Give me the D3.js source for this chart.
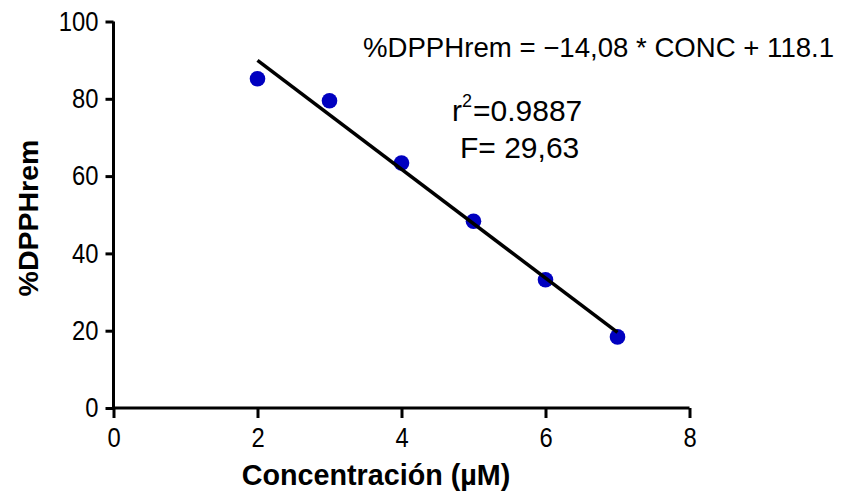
<!DOCTYPE html>
<html>
<head>
<meta charset="utf-8">
<script src="https://cdn.jsdelivr.net/npm/d3@7"></script>
<style>
  html, body { margin: 0; padding: 0; background: #fff; }
  svg { display: block; font-family: "Liberation Sans", Arial, sans-serif; }
</style>
</head>
<body>
<svg id="chart" width="844" height="497"></svg>
<script>
// Measured remaining DPPH (%) at each concentration
const concentration = [2, 3, 4, 5, 6, 7];
const dpphRemaining = [85.2, 79.5, 63.4, 48.3, 33.2, 18.4];

// Linear fit: %DPPHrem = slope * CONC + intercept
const slope = -14.08;
const intercept = 118.1;
const fitRange = [2, 7];

const xTicks = [0, 2, 4, 6, 8];
const yTicks = [0, 20, 40, 60, 80, 100];

const FONT = "'Liberation Sans', Arial, sans-serif";
const svg = d3.select("#chart");

const x = d3.scaleLinear().domain([0, 8]).range([113.5, 689.5]);
const y = d3.scaleLinear().domain([0, 100]).range([408, 21.5]);

// Axes
const xAxis = svg.append("g")
  .attr("transform", `translate(0,${y(0)})`)
  .call(d3.axisBottom(x).tickValues(xTicks).tickSize(10).tickPadding(10).tickFormat(d3.format("d")));
const yAxis = svg.append("g")
  .attr("transform", `translate(${x(0)},0)`)
  .call(d3.axisLeft(y).tickValues(yTicks).tickSize(8).tickPadding(7).tickFormat(d3.format("d")));

[xAxis, yAxis].forEach(g => {
  g.attr("font-size", null).attr("font-family", null);
  g.select(".domain").attr("stroke", "#000").attr("stroke-width", 3);
  g.selectAll(".tick line").attr("stroke", "#000").attr("stroke-width", 3);
  g.selectAll(".tick text")
    .attr("fill", "#000")
    .style("font-family", FONT)
    .style("font-size", "27px")
    // slightly condensed numerals
    .each(function () {
      const w = this.getComputedTextLength();
      d3.select(this).attr("textLength", w * 0.88).attr("lengthAdjust", "spacingAndGlyphs");
    });
});
// plain axis lines without outer tick stubs
xAxis.select(".domain").attr("d", `M${x(0)},0H${x(8)}`);
yAxis.select(".domain").attr("d", `M0,${y(0)}V${y(100)}`);

// Data points
svg.append("g").selectAll("circle")
  .data(concentration.map((c, i) => [c, dpphRemaining[i]]))
  .join("circle")
  .attr("cx", d => x(d[0]))
  .attr("cy", d => y(d[1]))
  .attr("r", 7.8)
  .attr("fill", "#0000c0");

// Regression line
const fit = fitRange.map(c => [c, slope * c + intercept]);
svg.append("path")
  .attr("d", d3.line().x(d => x(d[0])).y(d => y(d[1]))(fit))
  .attr("stroke", "#000")
  .attr("stroke-width", 3.5)
  .attr("fill", "none");

// Axis titles
const xTitle = svg.append("text")
  .attr("x", 376)
  .attr("y", 485)
  .attr("text-anchor", "middle")
  .style("font-family", FONT)
  .style("font-size", "29px")
  .style("font-weight", "bold")
  .text("Concentración (µM)");
xTitle.attr("textLength", xTitle.node().getComputedTextLength() * 0.99)
  .attr("lengthAdjust", "spacingAndGlyphs");

svg.append("text")
  .attr("transform", "translate(38,218) rotate(-90)")
  .attr("text-anchor", "middle")
  .style("font-family", FONT)
  .style("font-size", "28.5px")
  .style("font-weight", "bold")
  .text("%DPPHrem");

// Fit annotations
svg.append("text")
  .attr("x", 363)
  .attr("y", 57)
  .style("font-family", FONT)
  .style("font-size", "27.6px")
  .text("%DPPHrem = −14,08 * CONC + 118.1");

const r2 = svg.append("text")
  .attr("x", 452)
  .attr("y", 121)
  .style("font-family", FONT)
  .style("font-size", "30px");
r2.append("tspan").text("r");
r2.append("tspan").attr("dy", -14).style("font-size", "18px").text("2");
r2.append("tspan").attr("dy", 14).attr("dx", 1).text("=0.9887");

svg.append("text")
  .attr("x", 460)
  .attr("y", 158)
  .style("font-family", FONT)
  .style("font-size", "30px")
  .text("F= 29,63");
</script>
</body>
</html>
